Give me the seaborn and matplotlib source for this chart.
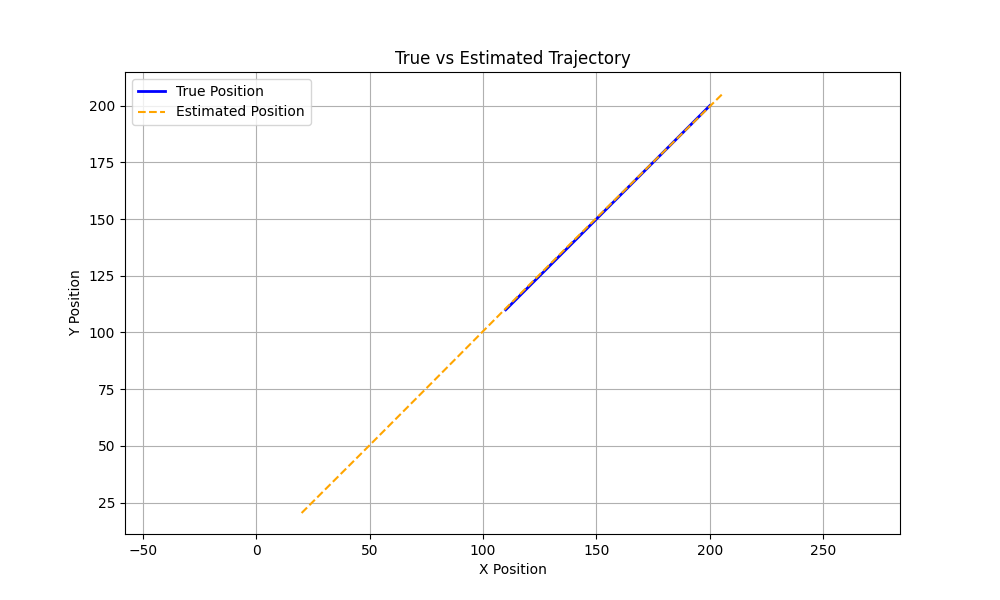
import matplotlib
matplotlib.use("Agg")
import matplotlib.pyplot as plt
import seaborn as sns
import pandas as pd

# values
true_x = [110, 125, 140, 155, 170, 185, 200]
true_y = [110, 125, 140, 155, 170, 185, 200]
est_x = [20, 50, 80, 110, 140, 170, 206]
est_y = [20.4, 50.3, 80.4, 110.6, 140.6, 170.2, 205.6]

df_true = pd.DataFrame({"x": true_x, "y": true_y})
df_est = pd.DataFrame({"x": est_x, "y": est_y})

fig, ax = plt.subplots(figsize=(10, 6), dpi=100)
sns.lineplot(data=df_true, x="x", y="y", sort=False, color="blue", linewidth=2,
             label="True Position", ax=ax)
sns.lineplot(data=df_est, x="x", y="y", sort=False, color="orange", linestyle="--",
             linewidth=1.5, label="Estimated Position", ax=ax)

ax.set_title("True vs Estimated Trajectory")
ax.set_xlabel("X Position")
ax.set_ylabel("Y Position")
ax.legend(loc="upper left")
ax.grid(True)
ax.axis("equal")

plt.savefig("out.png")
